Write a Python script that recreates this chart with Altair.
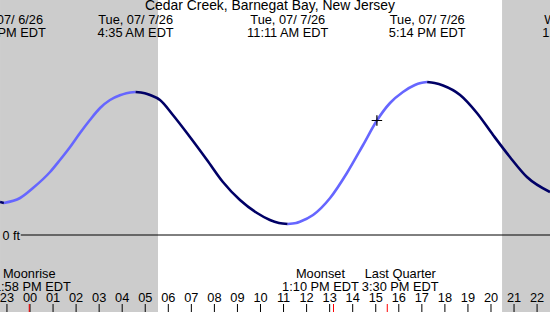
import altair as alt
import pandas as pd

# ---- data (hours from 00:00 Tue 07/07/26, feet) ----
curve_hours = [-1.30, -1.13, -0.43, 0.13, 0.87, 1.30, 1.74, 2.17, 2.60, 3.04, 3.47, 3.90, 4.18,
               4.58, 4.98, 5.21, 5.64, 6.20, 6.94, 7.68, 8.37, 9.11, 9.85, 10.41, 10.80, 11.18,
               11.55, 11.71, 12.28, 13.02, 13.75, 14.45, 15.05, 15.62, 16.18, 16.70, 16.95, 17.23,
               17.55, 17.92, 18.66, 19.39, 20.09, 20.82, 21.56, 22.56]
curve_feet = [0.33, 0.32, 0.37, 0.47, 0.63, 0.75, 0.88, 1.02, 1.15, 1.27, 1.35, 1.397, 1.418,
              1.43, 1.418, 1.40, 1.35, 1.20, 0.98, 0.75, 0.53, 0.35, 0.22, 0.15, 0.121, 0.11,
              0.12, 0.133, 0.20, 0.37, 0.62, 0.90, 1.145, 1.32, 1.43, 1.50, 1.52, 1.53,
              1.52, 1.495, 1.40, 1.22, 1.00, 0.78, 0.58, 0.43]

tide_hours = [-1.13, 4.583, 11.183, 17.233, 24.03]
tide_dates = ["Mon, 07/ 6/26", "Tue, 07/ 7/26", "Tue, 07/ 7/26", "Tue, 07/ 7/26", "Wed, 07/ 8/26"]
tide_times = ["10:52 PM EDT", "4:35 AM EDT", "11:11 AM EDT", "5:14 PM EDT", "12:01 AM EDT"]

night_start = [-1.30, 20.48]
night_end = [5.553, 22.56]

hour_ticks = list(range(-1, 23))
hour_labels = ["23"] + ["%02d" % h for h in range(0, 23)]

moon_hours = [-0.033, 13.167, 15.5]
moon_names = ["Moonrise", "Moonset", "Last Quarter"]
moon_times = ["11:58 PM EDT", "1:10 PM EDT", "3:30 PM EDT"]
moon_label_shift = [0, -13, 13]

now_hour = [15.05]
now_feet = [1.145]

title_text = "Cedar Creek, Barnegat Bay, New Jersey"

# ---- scales ----
XD = [-1.3015, 22.56]
YD = [-0.77, 2.35]
xs = alt.Scale(domain=XD, nice=False, zero=False)
ys = alt.Scale(domain=YD, nice=False, zero=False)
FONT = "Liberation Sans"
FS = 12.8

# build segments (rising / falling)
rows = []
seg = 0
prev = None
for i in range(len(curve_hours) - 1):
    d = "rise" if curve_feet[i + 1] > curve_feet[i] else "fall"
    if d != prev:
        seg += 1
        rows.append(dict(t=curve_hours[i], ft=curve_feet[i], seg=seg, dir=d, o=i))
    rows.append(dict(t=curve_hours[i + 1], ft=curve_feet[i + 1], seg=seg, dir=d, o=i + 1))
    prev = d
curve_df = pd.DataFrame(rows)

night_df = pd.DataFrame({"a": night_start, "b": night_end})
night = alt.Chart(night_df).mark_rect(color="#cccccc").encode(
    x=alt.X("a:Q", scale=xs, axis=None),
    x2="b:Q",
    y=alt.value(0),
    y2=alt.value(312),
)

zero_df = pd.DataFrame({"a": [-0.40], "b": [22.56], "z": [0.0]})
zero_line = alt.Chart(zero_df).mark_rule(color="black", strokeWidth=1).encode(
    x=alt.X("a:Q", scale=xs, axis=None), x2="b:Q",
    y=alt.Y("z:Q", scale=ys, axis=None),
)
zero_lab = alt.Chart(pd.DataFrame({"z": [0.0]})).mark_text(
    text="0 ft", font=FONT, fontSize=12.5, align="left", baseline="middle", color="black", dy=0.5
).encode(x=alt.value(2.5), y=alt.Y("z:Q", scale=ys, axis=None))

line = alt.Chart(curve_df).mark_line(strokeWidth=2.6, interpolate="monotone").encode(
    x=alt.X("t:Q", scale=xs, axis=None),
    y=alt.Y("ft:Q", scale=ys, axis=None),
    detail="seg:N",
    order="o:Q",
    color=alt.Color("dir:N", scale=alt.Scale(domain=["rise", "fall"], range=["#6666ff", "#000066"]),
                    legend=None),
)

now_df = pd.DataFrame({"t": now_hour, "ft": now_feet})
now_mark = alt.Chart(now_df).mark_point(
    shape="M-1,0L1,0M0,-1L0,1", size=110, stroke="black", strokeWidth=1.2, filled=False, opacity=1
).encode(x=alt.X("t:Q", scale=xs, axis=None), y=alt.Y("ft:Q", scale=ys, axis=None))

title = alt.Chart(pd.DataFrame({"s": [title_text]})).mark_text(
    font=FONT, fontSize=13.9, baseline="alphabetic", align="center", color="black"
).encode(text="s:N", x=alt.value(270), y=alt.value(10))

tide_df = pd.DataFrame({"t": tide_hours, "d": tide_dates, "tm": tide_times})
tide_date = alt.Chart(tide_df).mark_text(font=FONT, fontSize=FS, baseline="alphabetic", color="black").encode(
    x=alt.X("t:Q", scale=xs, axis=None), y=alt.value(23.5), text="d:N")
tide_time = alt.Chart(tide_df).mark_text(font=FONT, fontSize=FS, baseline="alphabetic", color="black").encode(
    x=alt.X("t:Q", scale=xs, axis=None), y=alt.value(36.5), text="tm:N")

hours_df = pd.DataFrame({"t": hour_ticks, "lab": hour_labels})
hour_text = alt.Chart(hours_df).mark_text(font=FONT, fontSize=FS, baseline="alphabetic", color="black").encode(
    x=alt.X("t:Q", scale=xs, axis=None), y=alt.value(302), text="lab:N")
hour_tick = alt.Chart(hours_df).mark_rule(color="black", strokeWidth=1).encode(
    x=alt.X("t:Q", scale=xs, axis=None), y=alt.value(304), y2=alt.value(312))

moon_df = pd.DataFrame({"t": moon_hours, "n": moon_names, "tm": moon_times, "dx": moon_label_shift})
moon_tick = alt.Chart(moon_df).mark_rule(color="red", strokeWidth=1).encode(
    x=alt.X("t:Q", scale=xs, axis=None), y=alt.value(304), y2=alt.value(312))
moon_layers = []
for i in range(len(moon_hours)):
    sub = moon_df.iloc[[i]]
    moon_layers.append(alt.Chart(sub).mark_text(font=FONT, fontSize=FS, baseline="alphabetic", color="black",
                                                dx=moon_label_shift[i]).encode(
        x=alt.X("t:Q", scale=xs, axis=None), y=alt.value(278.3), text="n:N"))
    moon_layers.append(alt.Chart(sub).mark_text(font=FONT, fontSize=FS, baseline="alphabetic", color="black",
                                                dx=moon_label_shift[i]).encode(
        x=alt.X("t:Q", scale=xs, axis=None), y=alt.value(291), text="tm:N"))

chart = alt.layer(
    night, zero_line, zero_lab, line, now_mark, title, tide_date, tide_time,
    hour_tick, moon_tick, hour_text, *moon_layers
).properties(
    width=550, height=312, padding=0, autosize=alt.AutoSizeParams(type="none"),
    background="white"
).configure_view(stroke=None, clip=True)

chart.save("out.html", embed_options={"renderer": "svg", "actions": False})
